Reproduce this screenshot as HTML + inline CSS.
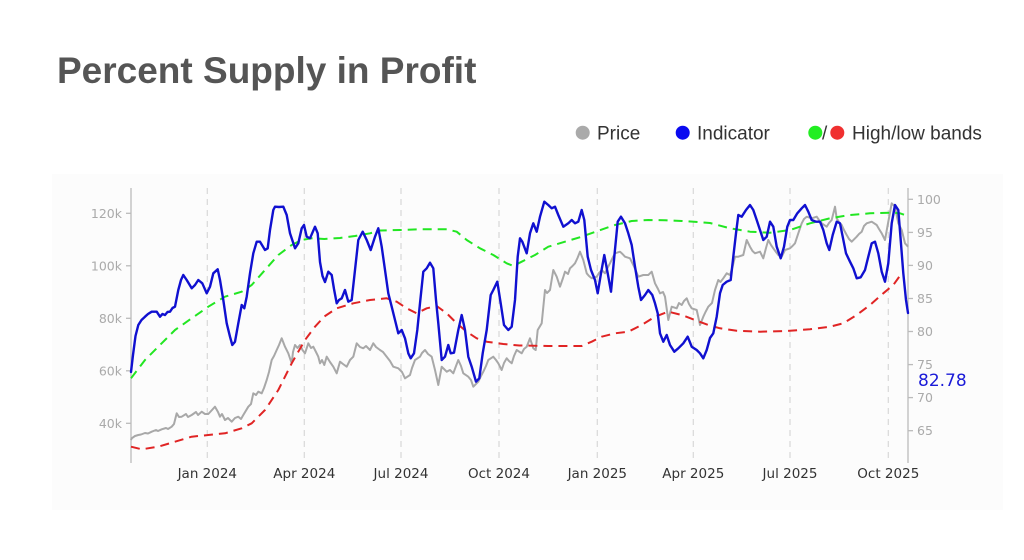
<!DOCTYPE html>
<html>
<head>
<meta charset="utf-8">
<style>
  html,body{margin:0;padding:0;background:#ffffff;}
  body{width:1024px;height:560px;overflow:hidden;}
  svg{display:block;}
</style>
</head>
<body>
<svg width="1024" height="560" viewBox="0 0 1024 560" xmlns="http://www.w3.org/2000/svg">
  <rect x="0" y="0" width="1024" height="560" fill="#ffffff"/>
  <rect x="52" y="174" width="951" height="336" fill="#fcfcfc"/>

  <!-- Title -->
  <text x="57" y="83" font-family="'Liberation Sans', Arial, sans-serif" font-weight="bold" font-size="37" fill="#555555">Percent Supply in Profit</text>

  <!-- Legend -->
  <g font-family="'Liberation Sans', Arial, sans-serif" font-size="19" fill="#333333">
    <circle cx="582.7" cy="132.7" r="7" fill="#aaaaaa"/>
    <text x="597" y="139.5">Price</text>
    <circle cx="682.7" cy="132.7" r="7" fill="#0a0af0"/>
    <text x="697" y="139.5">Indicator</text>
    <circle cx="815.3" cy="132.7" r="7" fill="#22ee22"/>
    <text x="822" y="139.5">/</text>
    <circle cx="837.3" cy="132.7" r="7" fill="#f03030"/>
    <text x="852" y="139.5">High/low bands</text>
  </g>

  <!-- Vertical dashed gridlines -->
  <g stroke="#d8d8d8" stroke-width="1.2" stroke-dasharray="6,5">
    <line x1="207.3" y1="188" x2="207.3" y2="463"/>
    <line x1="304.3" y1="188" x2="304.3" y2="463"/>
    <line x1="401" y1="188" x2="401" y2="463"/>
    <line x1="499" y1="188" x2="499" y2="463"/>
    <line x1="597.3" y1="188" x2="597.3" y2="463"/>
    <line x1="693.3" y1="188" x2="693.3" y2="463"/>
    <line x1="790" y1="188" x2="790" y2="463"/>
    <line x1="888.3" y1="188" x2="888.3" y2="463"/>
  </g>

  <!-- Axes -->
  <g stroke="#bbbbbb" stroke-width="1.3">
    <line x1="131" y1="188" x2="131" y2="463"/>
    <line x1="908" y1="188" x2="908" y2="463"/>
    <line x1="126" y1="213.3" x2="131" y2="213.3"/>
    <line x1="126" y1="265.8" x2="131" y2="265.8"/>
    <line x1="126" y1="318.3" x2="131" y2="318.3"/>
    <line x1="126" y1="370.8" x2="131" y2="370.8"/>
    <line x1="126" y1="423.3" x2="131" y2="423.3"/>
    <line x1="908" y1="199.3" x2="913" y2="199.3"/>
    <line x1="908" y1="232.4" x2="913" y2="232.4"/>
    <line x1="908" y1="265.4" x2="913" y2="265.4"/>
    <line x1="908" y1="298.5" x2="913" y2="298.5"/>
    <line x1="908" y1="331.5" x2="913" y2="331.5"/>
    <line x1="908" y1="364.6" x2="913" y2="364.6"/>
    <line x1="908" y1="397.6" x2="913" y2="397.6"/>
    <line x1="908" y1="430.7" x2="913" y2="430.7"/>
  </g>

  <!-- Left tick labels -->
  <g font-family="'DejaVu Sans', Verdana, sans-serif" font-size="12.5" fill="#aaaaaa" text-anchor="end">
    <text x="122" y="217.8">120k</text>
    <text x="122" y="270.3">100k</text>
    <text x="122" y="322.8">80k</text>
    <text x="122" y="375.3">60k</text>
    <text x="122" y="427.8">40k</text>
  </g>
  <!-- Right tick labels -->
  <g font-family="'DejaVu Sans', Verdana, sans-serif" font-size="12.5" fill="#aaaaaa">
    <text x="917" y="203.8">100</text>
    <text x="917" y="236.9">95</text>
    <text x="917" y="269.9">90</text>
    <text x="917" y="303">85</text>
    <text x="917" y="336">80</text>
    <text x="917" y="369.1">75</text>
    <text x="917" y="402.1">70</text>
    <text x="917" y="435.2">65</text>
  </g>
  <!-- X tick labels -->
  <g font-family="'DejaVu Sans', Verdana, sans-serif" font-size="13.5" fill="#333333" text-anchor="middle">
    <text x="207.3" y="478">Jan 2024</text>
    <text x="304.3" y="478">Apr 2024</text>
    <text x="401" y="478">Jul 2024</text>
    <text x="499" y="478">Oct 2024</text>
    <text x="597.3" y="478">Jan 2025</text>
    <text x="693.3" y="478">Apr 2025</text>
    <text x="790" y="478">Jul 2025</text>
    <text x="888.3" y="478">Oct 2025</text>
  </g>

  <!-- Price (gray) -->
  <polyline fill="none" stroke="#a8a8a8" stroke-width="2" stroke-linejoin="round" points="131,440 131.7,438.3 135,436 138.3,435 141,434.5 145,433 148,433.5 151.7,431.7 156,430 158,431 161.7,429.3 166,428 168,429 171.7,426.7 174,424 176.7,413.3 179,417 181.7,416.7 186,414 188,417 191.7,415 196,412 198,415 201.7,411.7 205,414 208.3,414 212,410 215,406.7 218,412 220,416.7 222,414 225,420 228,418 231.7,421.7 235,418 238.3,416.7 241,419 243.3,415 248.3,406.7 251,404 253.3,393.3 256,395 258.3,391.7 261.7,393.3 264,388 266.7,380 269,372 271.7,360 274,356 276.7,350 279,345 281.7,338.3 285,346.7 288.3,353.3 291.7,363.3 293,352 295,345 297.5,348 300,345 302.5,350 305,353.3 308.3,343.3 311,348 313.3,346.7 316,352 318.3,356.7 320,363.3 322,360 324.3,365 326.7,356.7 330,362 333.3,366.7 336.7,373.3 340,361.7 343,364 346.7,366.7 350,360 353.3,356.7 356.7,343.3 360,347 363.3,348.3 366,346 370,350 373.3,343.3 376,347 380,350 383,352 386.7,356.7 390,361 393.3,366.7 398.3,368.3 402,372 405,378.3 410,375 412,368 415,360 420,356.7 422,353 425,350 428,354 431.7,356.7 435,370 438.3,385 441.7,366.7 444,369 446.7,371.7 450,370 453.3,373.3 456,366 458.3,360 461,366 463.3,373.3 468.3,376.7 471,380 473.3,386.7 478.3,381.7 481,376 483.3,371.7 486,366 488.3,360 493.3,356.7 496,360 498.3,363.3 501.7,370 504,363 506.7,358.3 509,361 511.7,363.3 514,356 516.7,350 521.7,353.3 524,349 526.7,346.7 530,338.3 533.3,348.3 535.7,350 537.7,330 541.7,323.3 545,290 547,293 550,290 553.3,270 556.7,276.7 560,286.7 563,278 565,271.7 568,274 570,268.3 572.5,266 575,263.3 577.5,258 580,251.7 583.3,260 586.7,273.3 589,276 591.7,278.3 596.7,276.7 599,273 601.7,270 605,273.3 607.5,268 610,263.3 612.5,258 615,253.3 620,251.7 622.5,254 625,256.7 630,258.3 633.3,265 636,271 638.3,276.7 643.3,275 648.3,275 651.7,271.7 655,283.3 658,289 660,293.3 663,292 665,296.7 668.3,320 671.7,306.7 676.7,308.3 679,303 681.7,305 684,301 686.7,298.3 689,304 691.7,308.3 696.7,310 698.5,318 700,325 703.3,316.7 705.5,312 708.3,306.7 712,303 715,290 718.3,280 720.5,282 723.3,278.3 726.7,273.3 730,275 732.5,267 735,256.7 738.3,256.7 743.3,255 746.7,240 750,246.7 752.5,251 755,253.3 760,251.7 763.3,258.3 766,248 768.3,240 771,245 773.3,248.3 776,252 778.3,255 781.7,256.7 785,250 790,248.3 792.5,246 795,243.3 798.3,233.3 801.7,223.3 804,219 806.7,216.7 811.7,218.3 816.7,216.7 819,220 821.7,223.3 826.7,226.7 829,223 831.7,220 835,206.7 836.7,218.3 839,222 841.7,225 844,230 846.7,235 849,239 851.7,241.7 856.7,236.7 859,234 861.7,231.7 864,226 866.7,223.3 871.7,221.7 876.7,225 879,229 881.7,233.3 885,240 888.3,221.7 891.7,203.3 895,206.7 898.3,223.3 901.7,230 905,243.3 908,246.7"/>

  <!-- High band (green dashed) -->
  <polyline fill="none" stroke="#22e622" stroke-width="2" stroke-dasharray="9,6" stroke-linejoin="round" points="131,378.3 145,360 158.3,346.7 175,330 191.7,318.3 208.3,306.7 225,296.7 241.7,291.7 251.7,285 265,270 278.3,255 291.7,245 301.7,240 311.7,238.3 324.3,239 340,238 355,236 370,233.3 380,230.5 400,230 420,229.3 446.7,229.3 456.7,231.7 466.7,240 480,248.3 493.3,255 506.7,263.3 513.3,266 521.7,261.7 535,255 548.3,246.7 565,241.7 581.7,236.7 598.3,230.7 615,225 631.7,221 648.3,220 665,220.3 681.7,221 698,222 710,223 730,228.3 750,231.7 770,232.7 790,230 810,223.3 830,218.3 850,215 870,213.3 890,212.7 900,213.3 908,216"/>

  <!-- Low band (red dashed) -->
  <polyline fill="none" stroke="#e02424" stroke-width="2" stroke-dasharray="9,6" stroke-linejoin="round" points="131,446.7 141.7,449.3 158.3,446.7 175,441.7 191.7,436.7 208.3,435 225,433.3 241.7,428.3 251.7,423.3 265,410 278.3,390 291.7,363.3 305,340 315,326.7 324.3,316.5 336.7,308.3 353.3,303.3 370,300 386.7,298.3 396.7,301.7 406.7,308.3 416.7,313.3 426.7,308.3 436.7,306 446.7,313.3 456.7,323.3 466.7,331.7 476.7,338.3 486.7,341.7 503.3,344 519.3,345.5 548.3,346 581.7,346 591.7,341.7 601.7,336.7 615,333.3 628.3,331.7 641.7,325 655,316.7 668.3,311.7 681.7,315 695,320 708.3,325 720,328.3 736.7,330.7 760,331.7 786.7,331 810,329.3 830,326.7 843.3,323.3 856.7,315 870,305 883.3,293.3 893.3,285 901.7,273.3"/>

  <!-- Indicator (blue) -->
  <polyline fill="none" stroke="#1010d0" stroke-width="2.4" stroke-linejoin="round" stroke-linecap="round" points="131,372 133,355 135.5,336 138.3,325 141.5,320 145,316.7 148,314 151.7,311.7 156.7,311.7 160,316.7 162.5,314 165,315 167.5,312 170,311.7 172.5,308 175,306.7 178.3,290 181,280 183.3,275 186.7,280 191.7,288.3 195,285 198.3,280 202.3,283.3 206.7,293.3 210,286.7 213.3,273.3 217.7,269.3 220,280 223.3,300 226.7,323.3 230,336.7 232.3,345 235,341.7 238.3,323.3 241.7,305 244.3,308.3 246.7,296.7 250,273.3 253.3,253.3 256.7,241.7 260,241.7 265,250 267.7,248.3 270,230 273.3,210 275,206.7 279,207 283.3,206.7 286.7,215 290,233.3 295,248.3 298.3,243.3 301.7,228.3 304,225 306.7,236.7 310,238.3 315,226.7 317.7,233.3 320,262 322.5,276 325,282 328.3,271.7 331.7,275 334,289 336.7,303.3 339,300 341.7,298.3 345,290 348.3,301.7 351.7,300 355,270 358.3,240 362.7,231.7 366.7,240 370.7,250 375,236.7 378.3,228.3 381.7,246.7 385,270 388.3,293.3 391.7,306.7 395,320 398.3,333.3 401.7,330 405,338.3 408.3,353.3 410.7,358.3 414,353.3 417.3,330 420,303.3 423.3,271.7 426.7,268.3 430,262.7 433.3,268.3 436,300 438.3,323.3 441.7,360 445,356.7 448.3,345 450.7,353.3 454,352.7 458.3,330 461.7,315 465,330 468.3,356.7 471.7,366.7 476,381.7 479.3,378.3 482.7,353.3 486.7,330 490.7,295 493.3,290 497.3,281.7 500.7,303.3 504,325 508.3,330 511.7,326.7 515,300 517.7,256.7 520,238.3 522.3,241.7 526.7,253.3 530,233.3 533.3,223.3 536.7,231.7 540,216.7 544.3,201.7 548.3,205 551.7,208.3 555,206.7 558.3,215 563.3,226.7 568.3,223.3 571.7,220 575,223.3 578.3,221.7 581.7,210 584.3,220 587.7,256.7 591,270 595,280 597.7,293.3 601,273.3 604.3,255 607.7,273.3 611,291.7 614.3,256.7 617.7,221.7 621,216.7 625,223.3 628.3,233.3 631.7,245 635,266.7 638.3,286.7 641,300 645,295 648.3,290 652.3,295 655,303.3 657.7,313.3 660,333.3 663.3,341.7 666.7,335 670,345 674.3,351.7 678.3,348.3 683.3,343.3 687.7,336.7 691.7,346.7 696.7,350 700,353.3 703.3,358.3 706.7,350 710,338 713.3,333.3 716.7,316.7 720,293.3 722.7,285 726.7,281.7 730.7,280 733.3,256.7 736,233.3 738.3,215 741.7,216.7 746,210 750,205 753.3,210 756.7,220 760,230 763.3,240 766.7,236.7 770,221.7 773.3,226.7 776.7,246.7 780.7,258.3 784,246.7 787.3,226.7 790,220 793.3,220 797.3,213.3 801.7,208.3 805,205 808.3,211.7 811.7,220 816,221.7 820,221.7 823.3,230 826.7,243.3 829.3,250 832.7,235 836.7,221.7 840,223.3 842.7,236.7 846,253.3 850,261.7 853.3,268.3 856.7,278.3 860.7,277.3 865,270 868.3,256.7 871.7,243.3 875,241.7 878.3,253.3 881.7,271.7 885,281.7 888.3,263.3 891.7,223.3 895,205 898.3,210 900.7,240 903.3,273.3 906,300 908,313"/>

  <!-- Last value label -->
  <text x="918" y="386.2" font-family="'DejaVu Sans', Verdana, sans-serif" font-size="17" fill="#1a1ad8">82.78</text>
</svg>
</body>
</html>
